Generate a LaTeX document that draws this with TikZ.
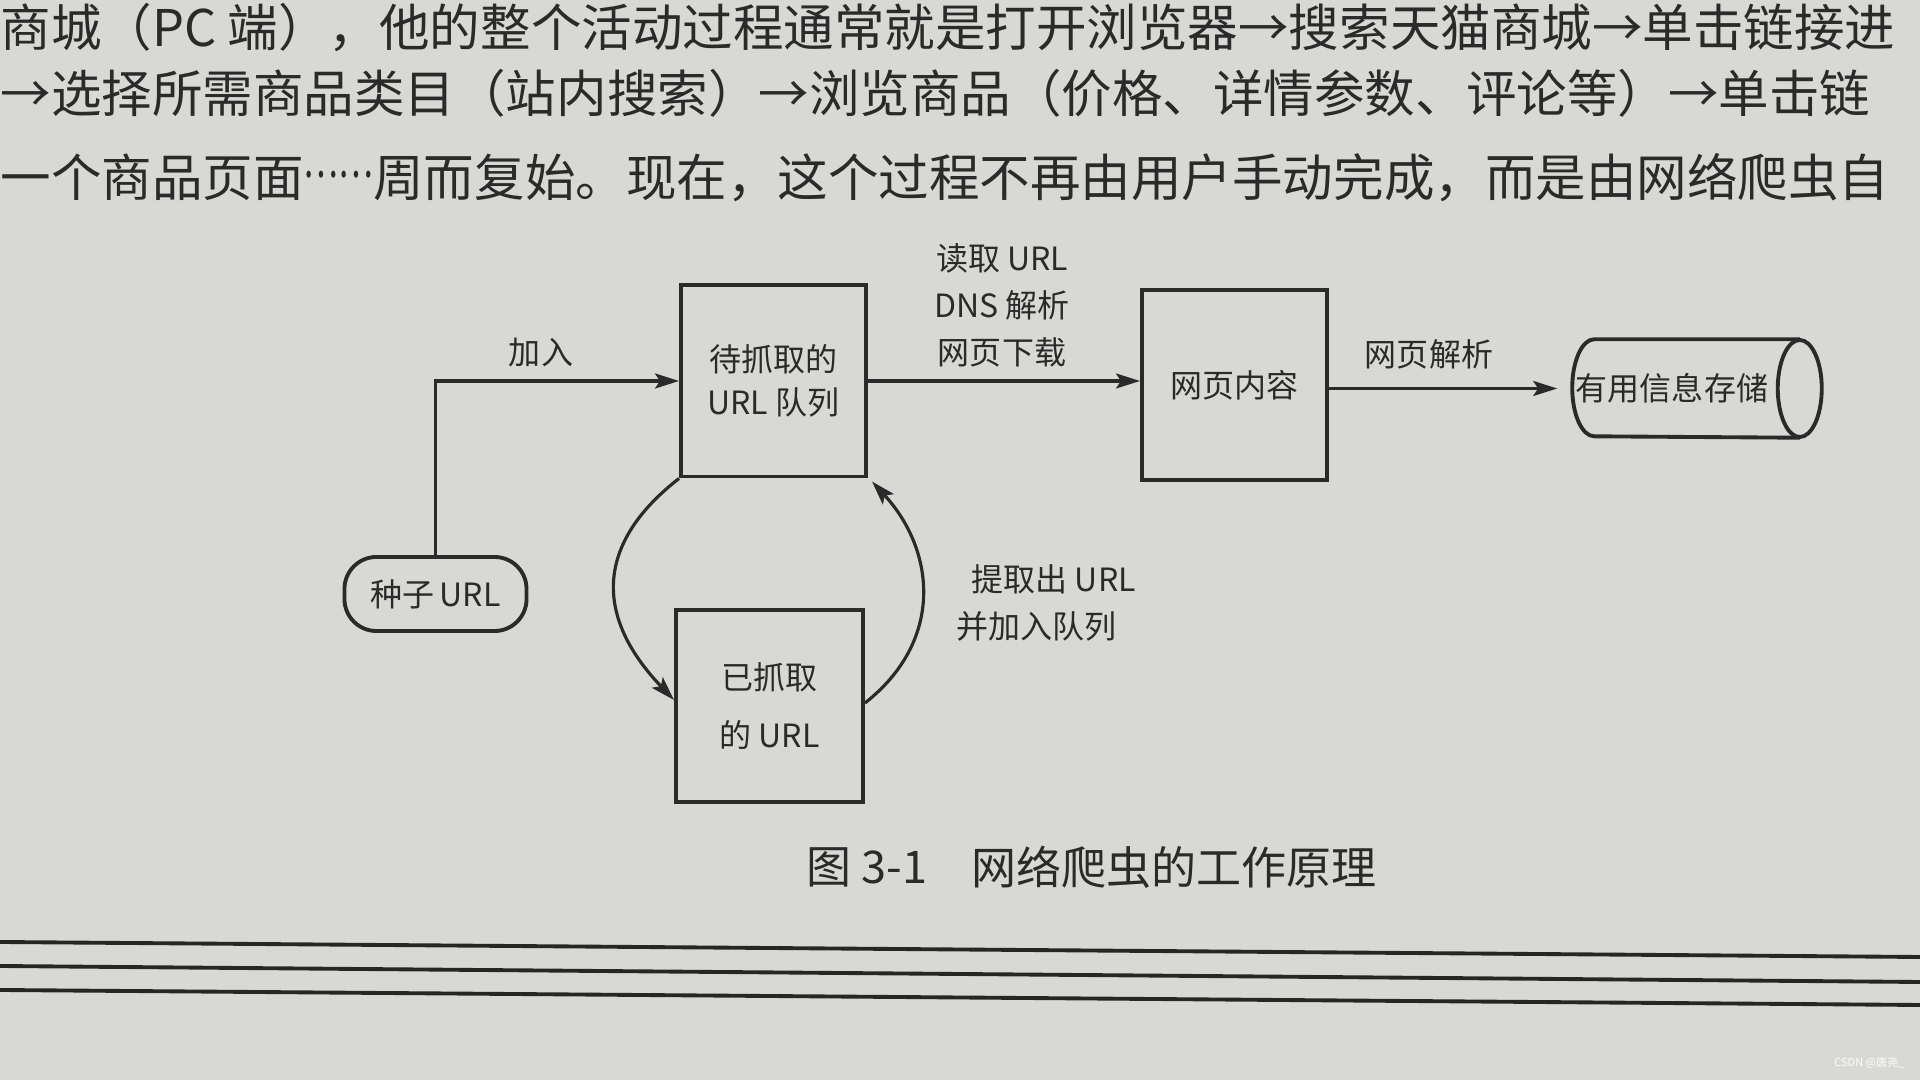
\documentclass[tikz,border=0pt]{standalone}
\usepackage{fontspec}
\usepackage{graphicx}
\setmainfont{Noto Sans CJK SC}
\usetikzlibrary{arrows.meta,calc}
\definecolor{paper}{RGB}{216,216,213}
\definecolor{ink}{RGB}{42,42,42}
\definecolor{rule}{RGB}{38,38,38}
\newcommand\bodyfont{\fontsize{0.505cm}{0.6cm}\selectfont}
\newcommand\labfont{\fontsize{0.32cm}{0.43cm}\selectfont}
\newcommand\donefont{\fontsize{0.32cm}{0.58cm}\selectfont}
\newcommand\capfont{\fontsize{0.45cm}{0.5cm}\selectfont}
\newcommand\wmfont{\fontsize{0.11cm}{0.13cm}\selectfont}
\newcommand\cjkellipsis{\raisebox{0.19cm}{\scalebox{0.65}[1]{……}}}
\begin{document}
\begin{tikzpicture}[x=0.01cm,y=-0.01cm,
  body/.style={text=ink, font=\bodyfont, inner sep=0pt, anchor=west},
  box/.style={draw=ink, line width=1.1pt, minimum width=1.85cm, minimum height=1.91cm, inner sep=0pt, align=center, text=ink, font=\labfont},
  lab/.style={text=ink, font=\labfont, align=center, inner sep=0pt},
  arr/.style={draw=ink, line width=0.9pt, -{Stealth[length=2.4mm,width=1.5mm,inset=0.5mm]}},
  outline/.style={draw=ink, line width=1.1pt},
  rulestyle/.style={draw=rule, line width=1.1pt}
]
\useasboundingbox (0,0) rectangle (1920,1080);
\fill[paper] (0,0) rectangle (1920,1080);

% running text of the page
\node[body] (t1) at (0,28) {商城（PC 端），他的整个活动过程通常就是打开浏览器→搜索天猫商城→单击链接进};
\node[body] (t2) at (0,93) {→选择所需商品类目（站内搜索）→浏览商品（价格、详情参数、评论等）→单击链};
\node[body] (t3) at (0,178) {一个商品页面\cjkellipsis 周而复始。现在，这个过程不再由用户手动完成，而是由网络爬虫自};

% diagram nodes
\node[box] (queue) at (773.5,381) {待抓取的\\URL 队列};
\node[box, minimum height=1.90cm] (page) at (1234.5,385) {\raisebox{-0.05cm}{网页内容}};
\node[box, minimum width=1.87cm, minimum height=1.92cm, font=\donefont] (done) at (769.5,706) {已抓取\\的 URL};
\node[outline, rounded corners=0.32cm, minimum width=1.82cm, minimum height=0.74cm, inner sep=0pt, text=ink, font=\labfont] (seed) at (435.5,594) {种子\,URL};

% cylinder (useful information store)
\node[minimum width=2.48cm, minimum height=0.97cm, inner sep=0pt, text=ink, font=\labfont] (store) at (1697,388.5) {\hspace*{-0.5cm}有用信息存储};
\draw[outline] ([xshift=-0.22cm]store.north east) -- ([xshift=0.22cm]store.north west)
  arc[start angle=90, end angle=270, x radius=0.22cm, y radius=0.485cm] -- ([xshift=-0.22cm]store.south east);
\draw[outline] ([xshift=-0.22cm]store.east) ellipse [x radius=0.22cm, y radius=0.485cm];

\coordinate (storein) at ([xshift=-0.15cm]store.west);

% connectors
\draw[arr] (seed.north) |- (queue.west);
\node[lab] (ljoin) at (541,353) {加入};

\draw[arr] (queue.east) -- (queue.east -| page.west);
\node[lab, font=\fontsize{0.32cm}{0.47cm}\selectfont] (lfetch) at (1002,305) {读取 URL\\DNS 解析\\网页下载};

\draw[arr] (page.east |- storein) -- (storein);
\node[lab] (lparse) at (1429,354) {网页解析};

\draw[arr] (queue.south west) .. controls (600,540) and (590,612) .. ([yshift=0.06cm]done.west);
\draw[arr] ([yshift=0.03cm]done.east) .. controls (945,640) and (935,550) .. ([xshift=0.04cm,yshift=-0.03cm]queue.south east);
\node[lab, align=left, anchor=west, font=\fontsize{0.32cm}{0.47cm}\selectfont] (lextract) at (956,603) {\hspace*{0.15cm}提取出 URL\\并加入队列};

% caption
\node[text=ink, font=\capfont, inner sep=0pt, anchor=west] (cap1) at (806,867) {图 3-1};
\node[text=ink, font=\capfont, inner sep=0pt, anchor=west] (cap2) at (971,867) {网络爬虫的工作原理};

% rules at the bottom of the page
\draw[rulestyle] (0,942) -- (1920,957);
\draw[rulestyle] (0,966) -- (1920,982);
\draw[rulestyle] (0,990) -- (1920,1005);

% watermark
\node[text=white!92!paper, font=\wmfont, inner sep=0pt, anchor=east] (wm) at (1905,1063) {CSDN @唐尧\_};
\end{tikzpicture}
\end{document}
